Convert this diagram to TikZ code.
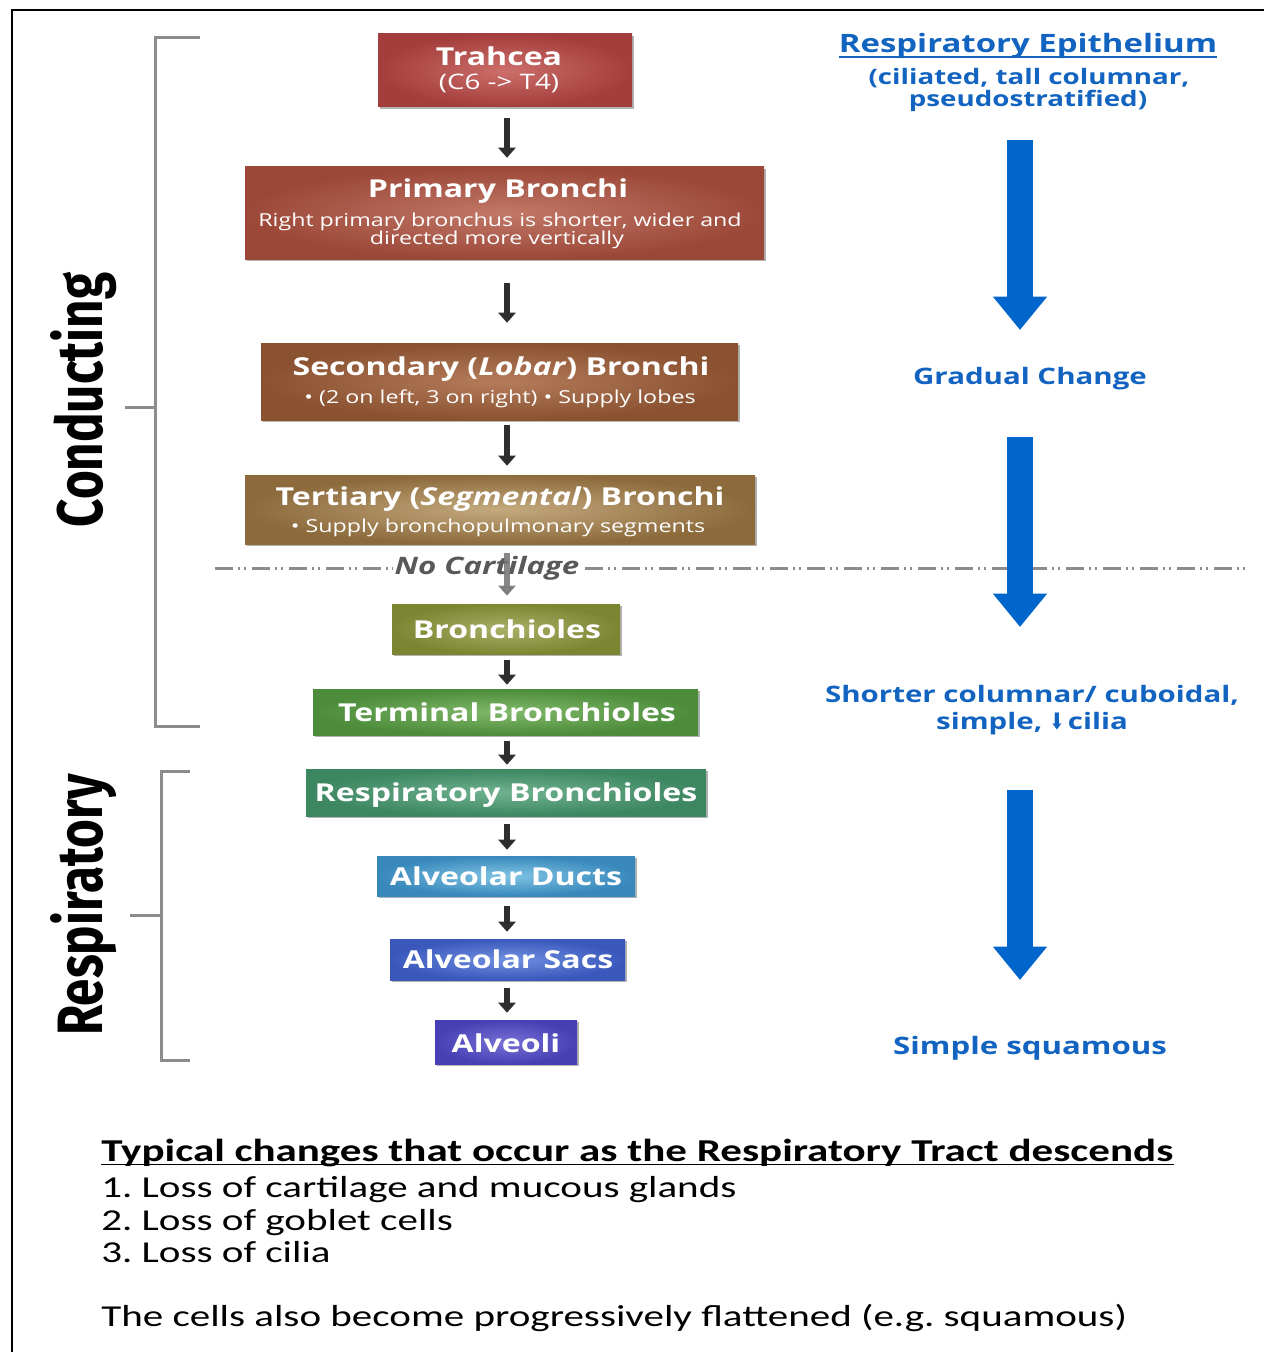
\documentclass[tikz,border=0pt]{standalone}
\usepackage{fontspec}
\setmainfont{Open Sans}
\newfontfamily\boxf[FakeStretch=1.3]{Open Sans}
\newfontfamily\botf[FakeStretch=1.35]{Carlito}
\newfontfamily\sidef{Fira Sans}
\newfontfamily\symf{DejaVu Sans}
\usetikzlibrary{arrows.meta,shadows,calc}
\frenchspacing
\definecolor{traI}{HTML}{CC6E6A}\definecolor{traO}{HTML}{A33E3C}
\definecolor{priI}{HTML}{C27868}\definecolor{priO}{HTML}{9C4838}
\definecolor{secI}{HTML}{B47C5A}\definecolor{secO}{HTML}{8A5230}
\definecolor{terI}{HTML}{C4AA7E}\definecolor{terO}{HTML}{8C6A3C}
\definecolor{broI}{HTML}{A8B066}\definecolor{broO}{HTML}{7C8632}
\definecolor{tbrI}{HTML}{80B86A}\definecolor{tbrO}{HTML}{4C8C3A}
\definecolor{rbrI}{HTML}{70B290}\definecolor{rbrO}{HTML}{3C8660}
\definecolor{aduI}{HTML}{80C4E4}\definecolor{aduO}{HTML}{3888BC}
\definecolor{asaI}{HTML}{7090E0}\definecolor{asaO}{HTML}{3A58BC}
\definecolor{alvI}{HTML}{7870D6}\definecolor{alvO}{HTML}{4640B4}
\definecolor{arrblue}{RGB}{0,102,204}
\definecolor{tblue}{RGB}{18,100,192}
\begin{document}
\begin{tikzpicture}[x=0.75pt,y=-0.75pt,
  box/.style={rectangle, inner sep=0pt, draw=none,
    drop shadow={shadow xshift=1.5pt, shadow yshift=-1.5pt, opacity=0.3, fill=black}},
  ttl/.style={text=white, inner sep=0pt, anchor=base,
    font=\boxf\bfseries\fontsize{18.5pt}{20pt}\selectfont},
  subt/.style={text=white, inner sep=0pt, anchor=base,
    font=\boxf\fontsize{13.4pt}{14.5pt}\selectfont},
  blk/.style={-{Triangle[width=12.75pt,length=7.5pt]}, line width=4.5pt, draw=black!82},
  bluearr/.style={-{Triangle[width=39pt,length=25pt]}, line width=20pt, draw=arrblue},
  bt/.style={text=tblue, inner sep=0pt, anchor=base,
    font=\boxf\bfseries\fontsize{17pt}{18pt}\selectfont},
  brk/.style={draw=black!45, line width=2.25pt},
  side/.style={rotate=90, inner sep=0pt, font=\sidef\bfseries\fontsize{37pt}{40pt}\selectfont},
  bot/.style={inner sep=0pt, anchor=base west, font=\botf\fontsize{22.8pt}{24pt}\selectfont},
  dashline/.style={draw=black!45, line width=2.25pt,
    dash pattern=on 13.5pt off 3.75pt on 1.5pt off 3pt on 1.5pt off 4.5pt}
]
\useasboundingbox (0,0) rectangle (1264,1352);
% frame
\draw[line width=1.5pt] (12,1352) -- (12,10) -- (1264,10);

% brackets
\draw[brk] (200,38) -- (155,38) -- (155,726) -- (200,726);
\draw[brk] (125,407) -- (155,407);
\draw[brk] (190,771) -- (161,771) -- (161,1060) -- (190,1060);
\draw[brk] (130,915) -- (161,915);
\node[side] (cond) at (84,400) {\scalebox{1}[1.3]{Conducting}};
\node[side] (resp) at (84,905) {\scalebox{1}[1.3]{Respiratory}};

% boxes
\node[box, minimum width=190.5pt, minimum height=54.75pt, inner color=traI, outer color=traO] (tra) at (505,70.5) {};
\node[box, minimum width=389.25pt, minimum height=69pt, inner color=priI, outer color=priO] (pri) at (504.5,213) {};
\node[box, minimum width=357.75pt, minimum height=57.75pt, inner color=secI, outer color=secO] (sec) at (499.5,381.5) {};
\node[box, minimum width=382.5pt, minimum height=51.75pt, inner color=terI, outer color=terO] (ter) at (500,509.5) {};
\node[box, minimum width=171pt, minimum height=37.5pt, inner color=broI, outer color=broO] (bro) at (506,629) {};
\node[box, minimum width=288.75pt, minimum height=34.5pt, inner color=tbrI, outer color=tbrO] (tbr) at (505.5,712) {};
\node[box, minimum width=300pt, minimum height=35.25pt, inner color=rbrI, outer color=rbrO] (rbr) at (506,792.5) {};
\node[box, minimum width=193.5pt, minimum height=30pt, inner color=aduI, outer color=aduO] (adu) at (506,876) {};
\node[box, minimum width=176.25pt, minimum height=30.75pt, inner color=asaI, outer color=asaO] (asa) at (507.5,959.5) {};
\node[box, minimum width=106.5pt, minimum height=33pt, inner color=alvI, outer color=alvO] (alv) at (506,1042) {};

% box texts
\node[ttl] (tratxt) at (499,66) {Trahcea};
\node[subt, font=\boxf\fontsize{16pt}{17pt}\selectfont] (trasub) at (499,90) {(C6 -> T4)};
\node[ttl] (pritxt) at (498,197) {Primary Bronchi};
\node[subt] (prisub1) at (500,226) {Right primary bronchus is shorter, wider and};
\node[subt] (prisub2) at (497,244) {directed more vertically};
\node[ttl] (sectxt) at (501,375) {Secondary (\textit{Lobar}) Bronchi};
\node[subt] (secsub) at (500,403) {• (2 on left, 3 on right) • Supply lobes};
\node[ttl] (tertxt) at (500,505) {Tertiary (\textit{Segmental}) Bronchi};
\node[subt] (tersub) at (498,532) {• Supply bronchopulmonary segments};
\node[ttl] (brotxt) at (507,638) {Bronchioles};
\node[ttl] (tbrtxt) at (507,721) {Terminal Bronchioles};
\node[ttl] (rbrtxt) at (506,801) {Respiratory Bronchioles};
\node[ttl] (adutxt) at (506,885) {Alveolar Ducts};
\node[ttl] (asatxt) at (508,968) {Alveolar Sacs};
\node[ttl] (alvtxt) at (506,1052) {Alveoli};

% cartilage line
\coordinate (dl) at (215,568);
\coordinate (dr) at (1250,568);
\draw[dashline] (dl) -- (dr);
\node[inner sep=1.5pt, fill=white, anchor=base, text=black!65,
  font=\boxf\bfseries\itshape\fontsize{18pt}{19pt}\selectfont] (nocart) at (487,574) {No Cartilage};

% black arrows
\coordinate (ax) at (507,0);
\draw[blk, shorten <=8.25pt, shorten >=6.75pt] (ax |- tra.south) -- (ax |- pri.north);
\draw[blk, shorten <=18pt, shorten >=15pt] (ax |- pri.south) -- (ax |- sec.north);
\draw[blk, shorten <=3.75pt, shorten >=6.75pt] (ax |- sec.south) -- (ax |- ter.north);
\draw[blk, draw=black!55, opacity=0.85, shorten <=6.75pt, shorten >=6pt] (ax |- ter.south) -- (ax |- bro.north);
\draw[blk, shorten <=4.5pt, shorten >=3pt] (ax |- bro.south) -- (ax |- tbr.north);
\draw[blk, shorten <=4.5pt, shorten >=3pt] (ax |- tbr.south) -- (ax |- rbr.north);
\draw[blk, shorten <=6pt, shorten >=4.5pt] (ax |- rbr.south) -- (ax |- adu.north);
\draw[blk, shorten <=7.5pt, shorten >=5.25pt] (ax |- adu.south) -- (ax |- asa.north);
\draw[blk, shorten <=6pt, shorten >=5.25pt] (ax |- asa.south) -- (ax |- alv.north);

% right column
\node[bt, font=\boxf\bfseries\fontsize{19pt}{20pt}\selectfont] (epi) at (1028,53) {Respiratory Epithelium};
\draw[tblue, line width=1.5pt] ([yshift=-3pt]epi.base west) -- ([yshift=-3pt]epi.base east);
\node[bt, font=\boxf\bfseries\fontsize{16pt}{17pt}\selectfont] (epi1) at (1029,85) {(ciliated, tall columnar,};
\node[bt, font=\boxf\bfseries\fontsize{16pt}{17pt}\selectfont] (epi2) at (1028,107) {pseudostratified)};
\node[bt] (grad) at (1030,384) {Gradual Change};
\node[bt] (shc1) at (1032,702) {Shorter columnar/ cuboidal,};
\node[bt] (shc2) at (1032,729) {simple, \scalebox{0.75}[1]{\symf\bfseries ⬇}\,cilia};
\node[bt, font=\boxf\bfseries\fontsize{18pt}{19pt}\selectfont] (sqm) at (1030,1054) {Simple squamous};
\coordinate (b1s) at (1020,140); \coordinate (b1e) at (1020,330);
\coordinate (b2s) at (1020,437); \coordinate (b2e) at (1020,627);
\coordinate (b3s) at (1020,790); \coordinate (b3e) at (1020,980);
\draw[bluearr] (b1s) -- (b1e);
\draw[bluearr] (b2s) -- (b2e);
\draw[bluearr] (b3s) -- (b3e);

% bottom text
\node[bot, font=\botf\bfseries\fontsize{23.9pt}{24pt}\selectfont] (bt0) at (101,1161) {Typical changes that occur as the Respiratory Tract descends};
\draw[line width=1.2pt] ([yshift=-2.5pt]bt0.base west) -- ([yshift=-2.5pt]bt0.base east);
\node[bot] (bt1) at (101,1197) {1. Loss of cartilage and mucous glands};
\node[bot] (bt2) at (101,1230) {2. Loss of goblet cells};
\node[bot] (bt3) at (101,1262) {3. Loss of cilia};
\node[bot] (bt4) at (101,1326) {The cells also become progressively flattened (e.g. squamous)};
\end{tikzpicture}
\end{document}
